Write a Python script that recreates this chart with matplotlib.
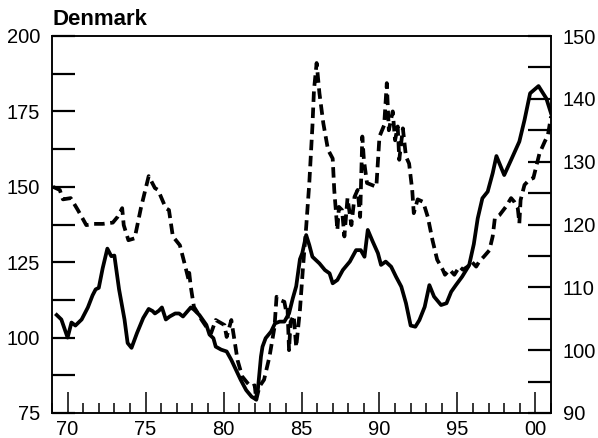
import matplotlib
matplotlib.use("Agg")
import matplotlib.pyplot as plt
from matplotlib.ticker import FixedLocator, MultipleLocator

plt.rcParams['font.family'] = ['Liberation Sans', 'DejaVu Sans']

# solid line, left scale
solid_years = [1969.3, 1969.6, 1970.0, 1970.25, 1970.5, 1970.9, 1971.3, 1971.6, 1971.8, 1972.0,
               1972.25, 1972.55, 1972.8, 1973.0, 1973.3, 1973.65, 1973.85, 1974.1, 1974.45, 1974.85,
               1975.2, 1975.45, 1975.6, 1975.85, 1976.05, 1976.3, 1976.55, 1976.9, 1977.15, 1977.4,
               1977.65, 1977.9, 1978.1, 1978.45, 1978.9, 1979.1, 1979.35, 1979.5, 1979.85, 1980.2,
               1980.5, 1980.8, 1981.1, 1981.45, 1981.8, 1982.05, 1982.2, 1982.4, 1982.5, 1982.7,
               1983.05, 1983.3, 1983.6, 1983.9, 1984.2, 1984.44, 1984.66, 1984.9, 1985.05, 1985.3,
               1985.5, 1985.7, 1986.15, 1986.5, 1986.8, 1987.0, 1987.3, 1987.65, 1988.1, 1988.5,
               1988.8, 1989.04, 1989.25, 1989.57, 1989.9, 1990.1, 1990.4, 1990.75, 1991.06, 1991.4,
               1991.7, 1992.0, 1992.3, 1992.56, 1992.9, 1993.2, 1993.5, 1993.95, 1994.3, 1994.6,
               1994.9, 1995.3, 1995.75, 1996.05, 1996.3, 1996.6, 1996.94, 1997.26, 1997.5, 1998.0,
               1998.44, 1998.97, 1999.3, 1999.66, 2000.2, 2000.7, 2001.0]
solid_vals = [107.5, 106, 100, 105, 104, 106, 110, 114, 116, 116.5,
              123, 129.5, 127, 127.2, 116, 106, 98.2, 96.6, 101.5, 106.5,
              109.5, 108.8, 108, 108.9, 110, 106, 107, 108, 108, 107,
              108.5, 110, 109.3, 107.5, 104.2, 101, 99.8, 97, 96, 95.4,
              92.6, 89.3, 86, 82.6, 80.4, 79.6, 82.6, 93.7, 97, 99.8,
              102, 104.7, 105.3, 105.3, 108, 113, 117, 126, 128, 134,
              130.7, 126.8, 124.6, 122.4, 121.3, 118, 119.1, 122.4, 125.2, 129,
              129, 126.8, 135.7, 131.8, 128, 124.1, 125.2, 123.5, 120.2, 116.9,
              111.4, 104, 103.6, 105.8, 110.2, 117.4, 113.6, 110.8, 111.4, 115.2,
              117.4, 120.2, 124, 131, 139.5, 146.2, 148.4, 154.5, 160.2, 153.9,
              158.9, 165, 172.1, 181, 183.4, 179.3, 174.4]

# dashed line, right scale
dash_years = [1969.06, 1969.5, 1969.7, 1970.2, 1970.66, 1971.2, 1971.7, 1972.26, 1972.9, 1973.2,
              1973.5, 1973.6, 1973.9, 1974.3, 1974.5, 1974.7, 1975.2, 1975.6, 1975.8, 1976.3,
              1976.5, 1976.75, 1977.2, 1977.5, 1977.75, 1977.8, 1977.9, 1978.1, 1978.35, 1978.6,
              1978.9, 1979.2, 1979.5, 1980.06, 1980.2, 1980.5, 1980.7, 1980.9, 1981.2, 1981.56,
              1981.75, 1982.0, 1982.1, 1982.3, 1982.6, 1982.95, 1983.27, 1983.4, 1983.6, 1983.9,
              1984.0, 1984.1, 1984.2, 1984.3, 1984.5, 1984.66, 1984.9, 1985.1, 1985.3, 1985.5,
              1985.7, 1985.8, 1985.97, 1986.15, 1986.4, 1986.7, 1987.0, 1987.1, 1987.2, 1987.3,
              1987.4, 1987.6, 1987.75, 1987.95, 1988.2, 1988.4, 1988.6, 1988.76, 1988.9, 1989.0,
              1989.2, 1989.5, 1989.8, 1990.0, 1990.3, 1990.47, 1990.6, 1990.85, 1991.0, 1991.17,
              1991.27, 1991.5, 1991.7, 1991.9, 1992.1, 1992.2, 1992.45, 1992.8, 1993.1, 1993.4,
              1993.7, 1994.06, 1994.2, 1994.5, 1994.8, 1995.13, 1995.35, 1995.66, 1995.9, 1996.2,
              1996.4, 1996.7, 1997.05, 1997.26, 1997.4, 1997.7, 1998.1, 1998.44, 1998.65, 1998.87,
              1998.97, 1999.05, 1999.3, 1999.6, 1999.87, 2000.0, 2000.26, 2000.6, 2000.8, 2001.0]
dash_vals = [126.0, 125.5, 124.0, 124.2, 122.3, 119.9, 120.1, 120.1, 120.3, 121.2,
             122.6, 119.9, 117.5, 117.8, 120.2, 122.6, 127.7, 125.8, 125.5, 122.6,
             122.3, 118.1, 116.7, 113.8, 111.3, 112.3, 110.1, 106.9, 105.9, 104.8,
             103.7, 102.7, 104.8, 104.0, 102.1, 104.8, 101.6, 98.4, 95.8, 94.7,
             94.2, 94.4, 92.1, 94.2, 95.3, 99, 103.7, 108.5, 108, 107.7,
             106.4, 106.9, 100, 104.5, 105.5, 100.5, 106.4, 113.3, 119.6, 126.6,
             135.6, 141.4, 145.7, 140.9, 136.1, 131.9, 130.5, 125.5, 122.3, 119.1,
             122.8, 122.3, 118.1, 124.2, 119.9, 124.4, 125.5, 121.2, 134, 130.3,
             126.6, 126.3, 126.0, 134, 135.8, 142.5, 135.0, 138, 133.4, 135.6,
             130.3, 135.3, 130.8, 129.7, 125.5, 121.8, 124, 123.6, 121.2, 117.5,
             114.4, 112.8, 112.0, 112.8, 112.0, 113.3, 112.8, 113.3, 114.1, 113.3,
             114.1, 114.9, 115.9, 118.1, 121.0, 121.5, 122.8, 124.2, 123.6, 122.6,
             120.2, 123.9, 126.3, 127.1, 127.4, 128.7, 131.3, 133.2, 134.2, 137.2]

x_ticks = [1970, 1975, 1980, 1985, 1990, 1995, 2000]
x_labels = ['70', '75', '80', '85', '90', '95', '00']

fig = plt.figure(figsize=(5.98, 4.38), dpi=100)
ax = fig.add_axes([52 / 598, 1 - 413 / 438, (551 - 52) / 598, (413 - 36) / 438])
ax2 = ax.twinx()

ax.plot(solid_years, solid_vals, color='black', lw=2.7)
ax2.plot(dash_years, dash_vals, color='black', lw=2.7, ls=(0, (2.8, 1.5)))

ax.set_xlim(1969.0, 2001.0)
ax.set_ylim(75, 200)
ax2.set_ylim(90, 150)

ax.xaxis.set_major_locator(FixedLocator(x_ticks))
ax.set_xticklabels(x_labels)
ax.xaxis.set_minor_locator(MultipleLocator(1))
ax.yaxis.set_major_locator(MultipleLocator(25))
ax.yaxis.set_minor_locator(MultipleLocator(12.5))
ax2.yaxis.set_major_locator(MultipleLocator(10))
ax2.yaxis.set_minor_locator(MultipleLocator(5))

ax.tick_params(axis='x', which='major', direction='in', length=15, width=1.1, labelsize=14.5, pad=5)
ax.tick_params(axis='x', which='minor', direction='in', length=7.5, width=1.1)
ax.tick_params(axis='y', which='both', direction='in', length=16.5, width=1.6, labelsize=14.5, pad=8.5)
ax2.tick_params(axis='y', which='both', direction='in', length=16.5, width=1.6, labelsize=14.5, pad=8.5)

for a in (ax, ax2):
    for s in a.spines.values():
        s.set_linewidth(1.1)

fig.text(53 / 598, 1 - 25 / 438, 'Denmark', fontsize=16, fontweight='bold', ha='left', va='baseline')

fig.savefig('out.png', dpi=100)
